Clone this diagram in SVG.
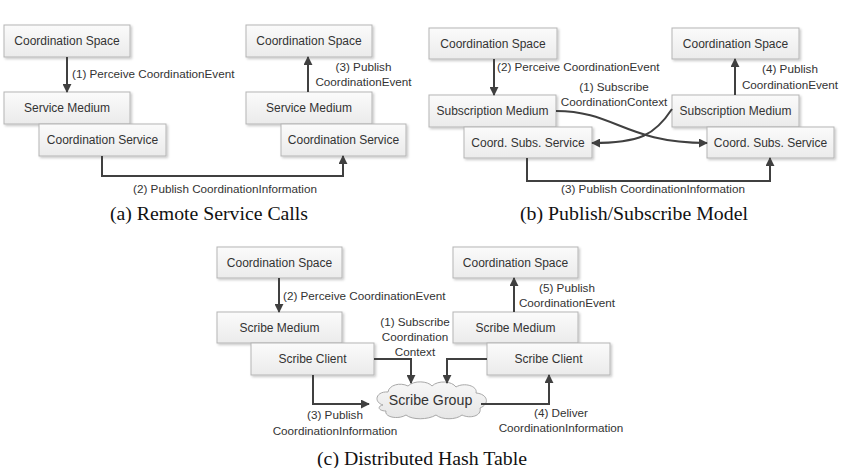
<svg xmlns="http://www.w3.org/2000/svg" width="845" height="468" viewBox="0 0 845 468">
<defs>
<linearGradient id="boxg" x1="0" y1="0" x2="0" y2="1">
<stop offset="0" stop-color="#fbfbfb"/>
<stop offset="1" stop-color="#ebebeb"/>
</linearGradient>
<linearGradient id="cloudg" x1="0" y1="0" x2="0" y2="1">
<stop offset="0" stop-color="#f7f7f7"/>
<stop offset="1" stop-color="#e6e6e6"/>
</linearGradient>
<filter id="sh" x="-10%" y="-20%" width="130%" height="160%">
<feDropShadow dx="1.5" dy="1.5" stdDeviation="1" flood-color="#000" flood-opacity="0.22"/>
</filter>
<marker id="ah" viewBox="0 0 10 10" refX="9" refY="5" markerWidth="9" markerHeight="9" markerUnits="userSpaceOnUse" orient="auto">
<path d="M0,0 L10,5 L0,10 z" fill="#404040"/>
</marker>
</defs>
<style>
.box{fill:url(#boxg);stroke:#b5b5b5;stroke-width:1;filter:url(#sh)}
.nt{font-family:"Liberation Sans",Arial,sans-serif;font-size:12px;fill:#333;text-anchor:middle}
.lb{font-family:"Liberation Sans",Arial,sans-serif;font-size:11.7px;fill:#333}
.mid{text-anchor:middle}
.cn{fill:none;stroke:#404040;stroke-width:2;marker-end:url(#ah)}
.cap{font-family:"Liberation Serif","Times New Roman",serif;font-size:18px;fill:#111;text-anchor:middle}
</style>
<rect width="845" height="468" fill="#fff"/>

<!-- Panel a -->
<g id="a_cs1"><rect class="box" x="4" y="25" width="126" height="32"/><text class="nt" x="67" y="45">Coordination Space</text></g>
<g id="a_sm1"><rect class="box" x="4" y="92" width="126" height="32"/><text class="nt" x="67" y="112">Service Medium</text></g>
<g id="a_csv1"><rect class="box" x="39" y="124" width="127" height="32"/><text class="nt" x="102.5" y="144">Coordination Service</text></g>
<g id="a_cs2"><rect class="box" x="246" y="25" width="126" height="32"/><text class="nt" x="309" y="45">Coordination Space</text></g>
<g id="a_sm2"><rect class="box" x="246" y="92" width="126" height="32"/><text class="nt" x="309" y="112">Service Medium</text></g>
<g id="a_csv2"><rect class="box" x="281" y="124" width="125" height="32"/><text class="nt" x="343.5" y="144">Coordination Service</text></g>

<!-- Panel b -->
<g id="b_cs1"><rect class="box" x="429" y="28" width="128" height="31"/><text class="nt" x="493" y="48">Coordination Space</text></g>
<g id="b_sm1"><rect class="box" x="429" y="95" width="127" height="32"/><text class="nt" x="492.5" y="115">Subscription Medium</text></g>
<g id="b_css1"><rect class="box" x="464" y="127" width="128" height="31"/><text class="nt" x="528" y="147">Coord. Subs. Service</text></g>
<g id="b_cs2"><rect class="box" x="672" y="28" width="127" height="31"/><text class="nt" x="735.5" y="48">Coordination Space</text></g>
<g id="b_sm2"><rect class="box" x="672" y="95" width="127" height="32"/><text class="nt" x="735.5" y="115">Subscription Medium</text></g>
<g id="b_css2"><rect class="box" x="707" y="127" width="127" height="31"/><text class="nt" x="770.5" y="147">Coord. Subs. Service</text></g>

<!-- Panel c -->
<g id="c_cs1"><rect class="box" x="217" y="247" width="125" height="31"/><text class="nt" x="279.5" y="267">Coordination Space</text></g>
<g id="c_sm1"><rect class="box" x="217" y="312" width="125" height="31"/><text class="nt" x="279.5" y="332">Scribe Medium</text></g>
<g id="c_sc1"><rect class="box" x="251" y="343" width="123" height="32"/><text class="nt" x="312.5" y="363">Scribe Client</text></g>
<g id="c_cs2"><rect class="box" x="453" y="247" width="125" height="31"/><text class="nt" x="515.5" y="267">Coordination Space</text></g>
<g id="c_sm2"><rect class="box" x="453" y="312" width="125" height="31"/><text class="nt" x="515.5" y="332">Scribe Medium</text></g>
<g id="c_sc2"><rect class="box" x="487" y="343" width="123" height="32"/><text class="nt" x="548.5" y="363">Scribe Client</text></g>
<g id="c_cloud">
<path d="M383,405 C373,402 376,391 388,392 C389,385 400,382 408,386 C414,380 428,381 432,386 C438,380 452,381 456,387 C464,382 478,386 476,393 C488,394 490,404 480,408 C482,416 470,419 462,415 C456,420 442,420 436,415 C428,420 412,420 406,415 C398,420 384,417 386,411 C378,411 377,406 383,405 Z" fill="url(#cloudg)" stroke="#a8a8a8" stroke-width="1"/>
<text x="430.5" y="405" font-family="'Liberation Sans',Arial,sans-serif" font-size="14.2" fill="#333" text-anchor="middle">Scribe Group</text>
</g>

<g id="connectors">
<!-- a -->
<path class="cn" d="M67,57 V92"/>
<path class="cn" d="M308,92 V57"/>
<path class="cn" d="M102,156 V176 H343 V156"/>
<!-- b -->
<path class="cn" d="M494,59 V95"/>
<path class="cn" d="M735,95 V59"/>
<path class="cn" d="M556,111 C615,111 625,143 707,143"/>
<path class="cn" d="M672,109 C655,135 640,143 592,143"/>
<path class="cn" d="M527,158 V181 H770 V158"/>
<!-- c -->
<path class="cn" d="M279,278 V312"/>
<path class="cn" d="M514,312 V278"/>
<path class="cn" d="M374,359 H411 V383"/>
<path class="cn" d="M487,359 H447 V383"/>
<path class="cn" d="M313,375 V404 H369"/>
<path class="cn" d="M481,404 H549 V375"/>
</g>

<g id="labels">
<text class="lb" x="72" y="78">(1) Perceive CoordinationEvent</text>
<text class="lb mid" x="363.5" y="71">(3) Publish</text>
<text class="lb mid" x="363.5" y="86">CoordinationEvent</text>
<text class="lb mid" x="225" y="193">(2) Publish CoordinationInformation</text>

<text class="lb" x="497" y="71">(2) Perceive CoordinationEvent</text>
<text class="lb mid" x="790" y="73">(4) Publish</text>
<text class="lb mid" x="790" y="89">CoordinationEvent</text>
<text class="lb mid" x="614" y="91">(1) Subscribe</text>
<text class="lb mid" x="614" y="106">CoordinationContext</text>
<text class="lb mid" x="653" y="193">(3) Publish CoordinationInformation</text>

<text class="lb" x="283" y="300">(2) Perceive CoordinationEvent</text>
<text class="lb mid" x="567" y="292">(5) Publish</text>
<text class="lb mid" x="567" y="307">CoordinationEvent</text>
<text class="lb mid" x="415" y="326">(1) Subscribe</text>
<text class="lb mid" x="415" y="341">Coordination</text>
<text class="lb mid" x="415" y="356">Context</text>
<text class="lb mid" x="335" y="419">(3) Publish</text>
<text class="lb mid" x="335" y="435">CoordinationInformation</text>
<text class="lb mid" x="561" y="417">(4) Deliver</text>
<text class="lb mid" x="561" y="432">CoordinationInformation</text>
</g>

<g id="captions">
<text class="cap" x="209" y="220" textLength="198" lengthAdjust="spacingAndGlyphs">(a) Remote Service Calls</text>
<text class="cap" x="634" y="220" textLength="228" lengthAdjust="spacingAndGlyphs">(b) Publish/Subscribe Model</text>
<text class="cap" x="422" y="465" textLength="210" lengthAdjust="spacingAndGlyphs">(c) Distributed Hash Table</text>
</g>
</svg>
